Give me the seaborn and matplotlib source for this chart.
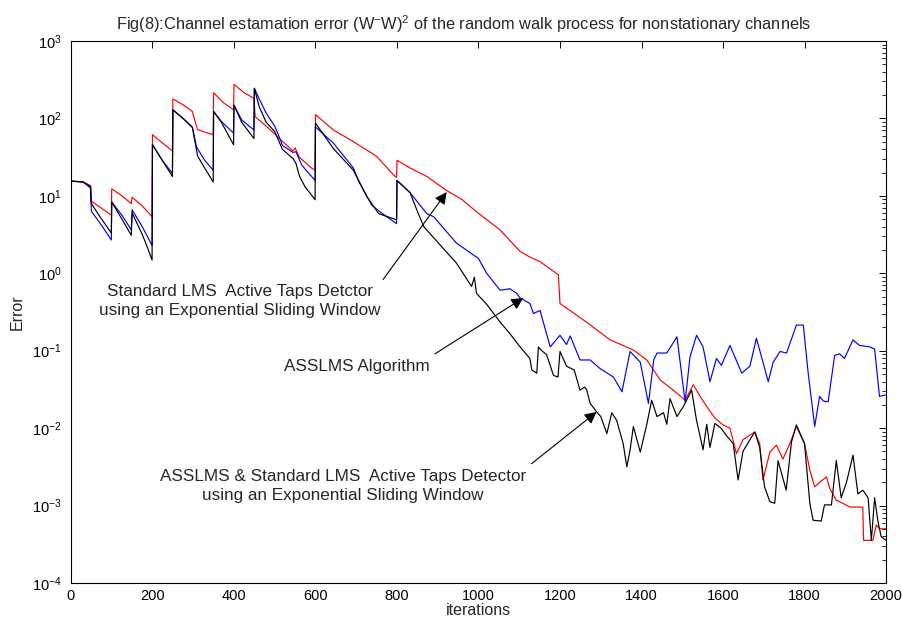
import numpy as np
import pandas as pd
import matplotlib
matplotlib.use("Agg")
import matplotlib.pyplot as plt
import matplotlib.ticker as mticker
import seaborn as sns

# ---------------- data ----------------
iter_red = [0, 30, 48, 50, 75, 99, 100, 125, 148, 150, 175, 199, 200, 225, 249,
            250, 275, 298, 310, 330, 349, 350, 375, 399, 400, 425, 449, 452, 475,
            500, 515, 545, 550, 560, 590, 599, 600, 644, 693, 750, 795, 799, 800,
            832, 873, 922, 960, 996, 1053, 1102, 1126, 1151, 1196, 1200, 1265,
            1323, 1380, 1413, 1446, 1478, 1507, 1527, 1545, 1560, 1580, 1600, 1617,
            1633, 1649, 1666, 1678, 1690, 1698, 1715, 1731, 1747, 1764, 1780, 1800,
            1813, 1825, 1837, 1854, 1862, 1878, 1894, 1911, 1943, 1945, 1968, 1976,
            1984, 2000]
err_red = [15.5, 15.1, 13.5, 8.51, 6.92, 5.62, 12.3, 10.0, 7.94, 9.55, 7.41, 5.37,
           61.7, 47.9, 38.0, 178, 150, 123, 72.0, 66.0, 61.7, 214, 158, 129, 275,
           214, 182, 105, 83.0, 63.1, 52.5, 38.0, 41.7, 31.6, 22.9, 21.4, 112, 70.8,
           50.1, 32.4, 17.8, 17.4, 28.8, 22.9, 17.8, 11.7, 8.91, 6.17, 3.63, 1.91,
           1.62, 1.41, 0.955, 0.407, 0.234, 0.138, 0.102, 0.0759, 0.0417, 0.0309,
           0.0229, 0.0363, 0.0251, 0.0191, 0.0135, 0.0110, 0.0100, 0.00468, 0.00708,
           0.00813, 0.00891, 0.00631, 0.00214, 0.00490, 0.00603, 0.00398, 0.00631,
           0.0105, 0.00631, 0.00288, 0.00174, 0.00200, 0.00234, 0.00166, 0.00117,
           0.00107, 0.000955, 0.000955, 0.000355, 0.000355, 0.000562, 0.000501,
           0.000501]

iter_blue = [0, 30, 48, 50, 75, 99, 100, 125, 148, 150, 175, 199, 200, 225, 249,
             250, 275, 298, 308, 328, 349, 350, 369, 399, 400, 419, 449, 450, 462,
             479, 500, 512, 519, 545, 552, 566, 577, 599, 600, 644, 693, 705, 738,
             759, 799, 800, 832, 873, 890, 946, 1000, 1020, 1053, 1077, 1094, 1102,
             1126, 1135, 1151, 1176, 1200, 1216, 1225, 1249, 1274, 1298, 1331, 1352,
             1372, 1397, 1417, 1430, 1438, 1462, 1487, 1507, 1519, 1535, 1551, 1568,
             1584, 1596, 1617, 1646, 1666, 1682, 1711, 1723, 1740, 1756, 1780, 1797,
             1809, 1825, 1837, 1846, 1858, 1874, 1886, 1898, 1919, 1935, 1960, 1972,
             1984, 2000]
err_blue = [15.5, 15.1, 12.6, 6.31, 4.17, 2.69, 8.32, 5.62, 3.63, 6.61, 3.98, 2.29,
            45.7, 28.2, 19.5, 129, 100, 77.6, 42.7, 28.8, 21.4, 123, 91.2, 64.6, 148,
            95.5, 70.8, 245, 178, 117, 79.4, 56.2, 44.7, 36.3, 37.2, 25.1, 21.4, 15.8,
            77.6, 47.9, 22.9, 15.8, 7.59, 6.17, 4.37, 15.8, 11.0, 5.89, 5.37, 2.45,
            1.55, 1.00, 0.603, 0.631, 0.550, 0.479, 0.407, 0.302, 0.331, 0.112, 0.158,
            0.120, 0.155, 0.0759, 0.0759, 0.0589, 0.0457, 0.0295, 0.0977, 0.0708,
            0.0209, 0.0759, 0.0933, 0.0933, 0.151, 0.0219, 0.0832, 0.158, 0.112,
            0.0398, 0.0794, 0.0646, 0.117, 0.0513, 0.0631, 0.145, 0.0398, 0.0708,
            0.0977, 0.0933, 0.214, 0.214, 0.0513, 0.0105, 0.0257, 0.0224, 0.0219,
            0.0871, 0.0912, 0.0794, 0.138, 0.117, 0.112, 0.105, 0.0257, 0.0269]

iter_black = [0, 30, 48, 50, 75, 99, 100, 125, 148, 150, 175, 190, 199, 200, 225,
              249, 250, 275, 298, 311, 328, 349, 350, 369, 399, 400, 419, 449, 450,
              462, 479, 500, 519, 545, 552, 561, 574, 599, 600, 644, 693, 726, 755,
              799, 800, 832, 850, 866, 946, 983, 990, 995, 1020, 1053, 1077, 1102,
              1126, 1131, 1143, 1147, 1155, 1167, 1184, 1195, 1200, 1216, 1235, 1249,
              1260, 1265, 1274, 1290, 1300, 1315, 1327, 1339, 1355, 1364, 1372, 1380,
              1397, 1413, 1425, 1438, 1454, 1462, 1470, 1487, 1503, 1519, 1523, 1535,
              1551, 1560, 1568, 1580, 1595, 1609, 1625, 1637, 1649, 1666, 1678, 1690,
              1702, 1715, 1727, 1735, 1755, 1768, 1780, 1800, 1813, 1821, 1841, 1849,
              1866, 1878, 1890, 1903, 1919, 1931, 1943, 1956, 1964, 1972, 1980, 1988,
              2000]
err_black = [15.5, 15.1, 13.2, 7.94, 5.01, 3.31, 8.32, 5.01, 3.09, 6.03, 3.16, 2.00,
             1.48, 45.7, 28.2, 17.8, 129, 100, 75.9, 32.4, 22.9, 15.1, 123, 89.1, 45.7,
             148, 89.1, 55.0, 245, 141, 89.1, 67.6, 39.8, 30.2, 26.3, 17.8, 13.2,
             8.91, 87.1, 40.7, 21.4, 9.77, 5.89, 4.90, 15.8, 11.0, 6.31, 3.98, 1.35,
             0.676, 0.891, 0.550, 0.398, 0.234, 0.166, 0.112, 0.0794, 0.0562, 0.0513,
             0.112, 0.100, 0.0891, 0.0479, 0.0457, 0.0977, 0.0631, 0.0562, 0.0309,
             0.0339, 0.0316, 0.0209, 0.0162, 0.0141, 0.00851, 0.0158, 0.0126, 0.00631,
             0.00316, 0.00525, 0.0105, 0.00490, 0.0112, 0.0229, 0.0141, 0.0158,
             0.0112, 0.0240, 0.0141, 0.0191, 0.0282, 0.0309, 0.0126, 0.00525, 0.0112,
             0.00562, 0.0115, 0.0100, 0.00794, 0.00631, 0.00214, 0.00501, 0.00708,
             0.00891, 0.00562, 0.00174, 0.00112, 0.00107, 0.00380, 0.00158, 0.00661,
             0.0110, 0.00631, 0.00107, 0.000646, 0.000631, 0.00102, 0.00102, 0.00380,
             0.00126, 0.00200, 0.00447, 0.00141, 0.00158, 0.00126, 0.000355, 0.00126,
             0.000631, 0.000398, 0.000355]

series_names = ["Standard LMS ATD", "ASSLMS", "ASSLMS & Standard LMS ATD"]
series_colors = ["red", "blue", "black"]

title_text = ("Fig(8):Channel estamation error (W$^{-}$W)$^{2}$ "
              "of the random walk process for nonstationary channels")
x_label = "iterations"
y_label = "Error"
x_ticks = [0, 200, 400, 600, 800, 1000, 1200, 1400, 1600, 1800, 2000]
y_ticks = [1e-4, 1e-3, 1e-2, 1e-1, 1e0, 1e1, 1e2, 1e3]

ann1_text = "Standard LMS  Active Taps Detctor\nusing an Exponential Sliding Window"
ann2_text = "ASSLMS Algorithm"
ann3_text = ("ASSLMS & Standard LMS  Active Taps Detector\n"
             "using an Exponential Sliding Window")

# ---------------- frame ----------------
frames = []
for name, xs, ys in zip(series_names,
                        [iter_red, iter_blue, iter_black],
                        [err_red, err_blue, err_black]):
    frames.append(pd.DataFrame({"iteration": xs, "error": ys, "series": name}))
df = pd.concat(frames, ignore_index=True)

sns.set_theme(style="white")
plt.rcParams["font.family"] = ["Liberation Sans", "DejaVu Sans"]
plt.rcParams["mathtext.fontset"] = "custom"
plt.rcParams["mathtext.rm"] = "Liberation Sans"
plt.rcParams["mathtext.it"] = "Liberation Sans:italic"
plt.rcParams["mathtext.bf"] = "Liberation Sans:bold"

fig = plt.figure(figsize=(9.03, 6.19), dpi=100)
ax = fig.add_axes([0.0786, 0.0582, 0.9026, 0.8756])

sns.lineplot(data=df, x="iteration", y="error", hue="series",
             hue_order=series_names,
             palette=dict(zip(series_names, series_colors)),
             estimator=None, sort=False, legend=False, linewidth=0.85, ax=ax)

ax.set_yscale("log")
ax.set_xlim(0, 2000)
ax.set_ylim(1e-4, 1e3)
ax.set_xticks(x_ticks)
ax.set_yticks(y_ticks)
ax.yaxis.set_major_formatter(mticker.LogFormatterSciNotation())
minor_y = [m * d for d in y_ticks[:-1] for m in range(2, 10)]
ax.yaxis.set_minor_locator(mticker.FixedLocator(minor_y))
ax.yaxis.set_minor_formatter(mticker.NullFormatter())
ax.set_ylim(1e-4, 1e3)

ax.tick_params(which="both", direction="in", top=True, right=True,
               colors="black", labelsize=10.5)
ax.tick_params(which="major", length=5, width=0.7)
ax.tick_params(which="minor", length=3, width=0.6)
ax.tick_params(axis="x", pad=4)
ax.tick_params(axis="y", pad=7)
for sp in ax.spines.values():
    sp.set_color("black")
    sp.set_linewidth(0.8)

ax.set_xlabel(x_label, fontsize=11.5, labelpad=0)
ax.set_ylabel(y_label, fontsize=11.5, labelpad=5)
ax.set_title(title_text, fontsize=11.8, pad=8, x=0.482)

arrow_kw = dict(arrowstyle="-|>", color="black", lw=0.8, mutation_scale=18,
                shrinkA=0, shrinkB=0)
ax.annotate("", xy=(922, 11.2), xytext=(766, 0.83), arrowprops=arrow_kw)
ax.annotate("", xy=(1110, 0.48), xytext=(893, 0.091), arrowprops=arrow_kw)
ax.annotate("", xy=(1290, 0.0162), xytext=(1130, 0.00347), arrowprops=arrow_kw)

ax.text(415, 0.44, ann1_text, ha="center", va="center", fontsize=12.3, linespacing=1.3)
ax.text(702, 0.0617, ann2_text, ha="center", va="center", fontsize=12.3)
ax.text(667, 0.00178, ann3_text, ha="center", va="center", fontsize=12.3, linespacing=1.3)

fig.savefig("out.png", dpi=100, facecolor="white")
